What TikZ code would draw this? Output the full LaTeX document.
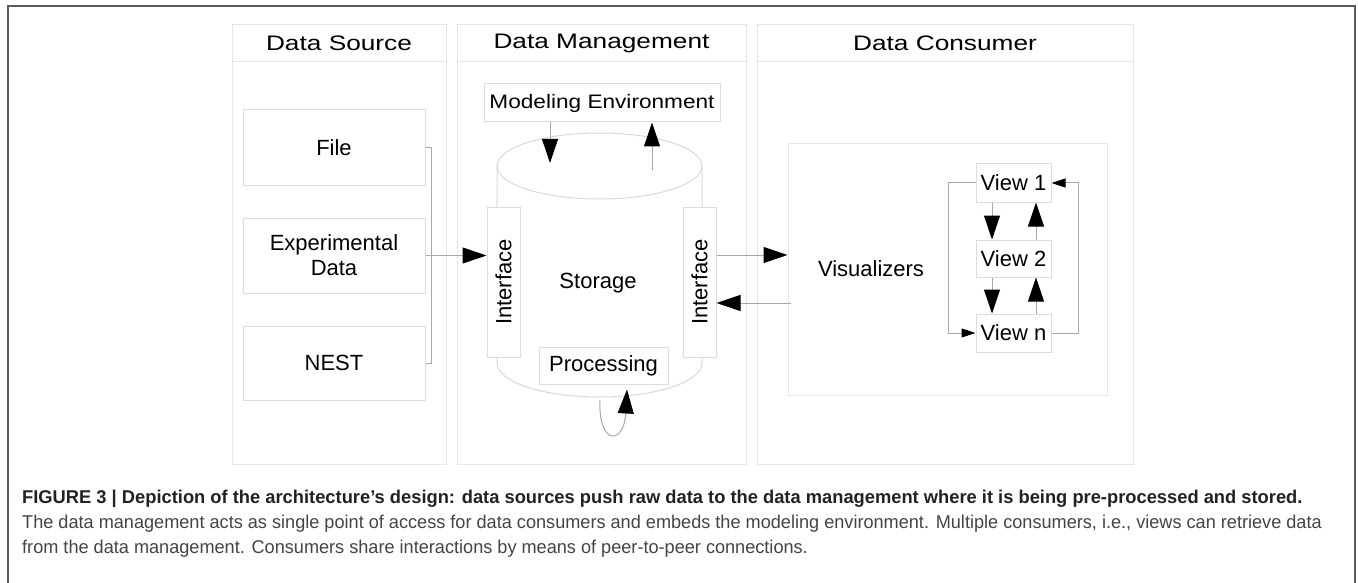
\documentclass[tikz,border=0pt]{standalone}
\usepackage{fontspec}
\setmainfont{Liberation Sans}
\newfontfamily\titlefont[FakeStretch=1.25]{Liberation Sans}
\newfontfamily\modelfont[FakeStretch=1.16]{Liberation Sans}
\newfontfamily\capfont[FakeStretch=0.98]{Liberation Sans}
\newfontfamily\capheadfont[FakeStretch=0.99]{Liberation Sans}
\usetikzlibrary{arrows.meta,calc}
\definecolor{framegray}{HTML}{5A5A5A}
\definecolor{panelgray}{HTML}{E6E6E6}
\definecolor{boxgray}{HTML}{DDDDDD}
\definecolor{cylgray}{HTML}{D8D8D8}
\definecolor{conngray}{HTML}{A8A8A8}
\definecolor{capbold}{HTML}{222222}
\definecolor{captext}{HTML}{444444}

\begin{document}
\begin{tikzpicture}[x=1pt,y=-1pt,
    panel/.style={draw=panelgray,line width=1pt,inner sep=0pt},
    ptitle/.style={panel,minimum height=37pt,font=\titlefont\fontsize{21}{25}\selectfont},
    box/.style={draw=boxgray,fill=white,line width=1pt,inner sep=0pt,font=\fontsize{22}{25}\selectfont},
    plain/.style={inner sep=0pt,font=\fontsize{22}{25}\selectfont},
    conn/.style={draw=conngray,line width=1pt},
    cyl/.style={draw=cylgray,line width=1pt},
    bigtip/.style={-{Triangle[length=24pt,width=16pt,color=black]}},
    smalltip/.style={-{Triangle[length=14pt,width=9pt,color=black]}},
    caption/.style={anchor=base west,inner sep=0pt}]

    \useasboundingbox (0,0) rectangle (1358,583);
    % frame round the figure
    \draw[framegray,line width=2pt] (7.5,583) -- (7.5,6.5) -- (1355,6.5) -- (1355,583);

    % the three columns
    \node[panel,minimum width=214pt,minimum height=439pt] (source) at (339,244.5) {};
    \node[ptitle,minimum width=214pt] (sourcetitle) at (339,43.5) {Data Source};
    \node[panel,minimum width=289pt,minimum height=439pt] (manage) at (601.5,244.5) {};
    \node[ptitle,minimum width=289pt] (managetitle) at (601.5,43.5) {Data Management};
    \node[panel,minimum width=376pt,minimum height=439pt] (consume) at (945,244.5) {};
    \node[ptitle,minimum width=376pt] (consumetitle) at (945,43.5) {Data Consumer};

    % data sources
    \node[box,minimum width=182pt,minimum height=76pt] (file) at (334,148) {File};
    \node[box,minimum width=182pt,minimum height=75pt,align=center] (exp) at (334,255.5) {Experimental\\Data};
    \node[box,minimum width=182pt,minimum height=74pt] (nest) at (334,363) {NEST};

    % storage cylinder
    \draw[cyl] (599.5,166) ellipse [x radius=102.5,y radius=33];
    \draw[cyl] (497,166) -- (497,363) arc[start angle=180,end angle=0,x radius=102.5,y radius=34] -- (702,166);

    \node[box,minimum width=236pt,minimum height=38pt,font=\modelfont\fontsize{19.5}{23}\selectfont] (model) at (602,103) {Modeling Environment};
    \node[box,minimum width=33pt,minimum height=150pt] (ifl) at (503.5,282) {\rotatebox{90}{Interface}};
    \node[box,minimum width=33pt,minimum height=150pt] (ifr) at (699.5,282) {\rotatebox{90}{Interface}};
    \node[plain] (storage) at (598,283) {Storage};
    \node[box,minimum width=129pt,minimum height=37pt] (proc) at (603.5,365.5) {Processing};

    % consumers
    \node[draw=panelgray,line width=1pt,minimum width=319pt,minimum height=251pt] (vis) at (947.5,269.5) {};
    \node[plain] (vislabel) at (871,269) {Visualizers};
    \node[box,minimum width=75pt,minimum height=38pt] (view1) at (1013.5,183) {View 1};
    \node[box,minimum width=75pt,minimum height=37pt] (view2) at (1013.5,258.5) {View 2};
    \node[box,minimum width=75pt,minimum height=38pt] (viewn) at (1013.5,333) {View n};

    % sources into the left interface
    \draw[conn] (file.east) -- ++(6,0) |- (nest.east);
    \draw[conn,bigtip] (exp.east) -- (exp.east -| ifl.west);

    % modeling environment
    \coordinate (modelin) at (550,163);
    \coordinate (modelout) at (652,170);
    \draw[conn,bigtip] (modelin |- model.south) -- (modelin);
    \draw[conn,bigtip] (modelout) -- (modelout |- model.south);

    % processing loop
    \draw[conn,bigtip] ($(proc.south)+(-3.5,16)$) .. controls +(-2,45) and +(-3,56) .. ($(proc.south)+(23.5,5)$);

    % interface <-> visualizers
    \coordinate (outrow) at (0,255);
    \coordinate (backrow) at (0,303);
    \draw[conn,bigtip] (ifr.east |- outrow) -- (vis.west |- outrow);
    \draw[conn,bigtip] ([xshift=3pt]vis.west |- backrow) -- (ifr.east |- backrow);

    % views
    \coordinate (downcol) at (992,0);
    \coordinate (upcol) at (1036,0);
    \draw[conn,bigtip] (view1.south -| downcol) -- (view2.north -| downcol);
    \draw[conn,bigtip] (view2.north -| upcol) -- (view1.south -| upcol);
    \draw[conn,bigtip] (view2.south -| downcol) -- (viewn.north -| downcol);
    \draw[conn,bigtip] (viewn.north -| upcol) -- (view2.south -| upcol);
    \draw[conn,smalltip] (view1.west) -- ++(-27,0) |- (viewn.west);
    \draw[conn,smalltip] (viewn.east) -- ++(27,0) |- (view1.east);

    % caption
    \node[caption,text=capbold,font=\capheadfont\bfseries\fontsize{18.5}{22}\selectfont] (caphead) at (22,503)
        {FIGURE 3 | Depiction of the architecture’s design: data sources push raw data to the data management where it is being pre-processed and stored.};
    \node[caption,text=captext,font=\capfont\fontsize{18.5}{22}\selectfont] (capline1) at (22,528)
        {The data management acts as single point of access for data consumers and embeds the modeling environment. Multiple consumers, i.e., views can retrieve data};
    \node[caption,text=captext,font=\capfont\fontsize{18.5}{22}\selectfont] (capline2) at (22,553)
        {from the data management. Consumers share interactions by means of peer-to-peer connections.};
\end{tikzpicture}
\end{document}
